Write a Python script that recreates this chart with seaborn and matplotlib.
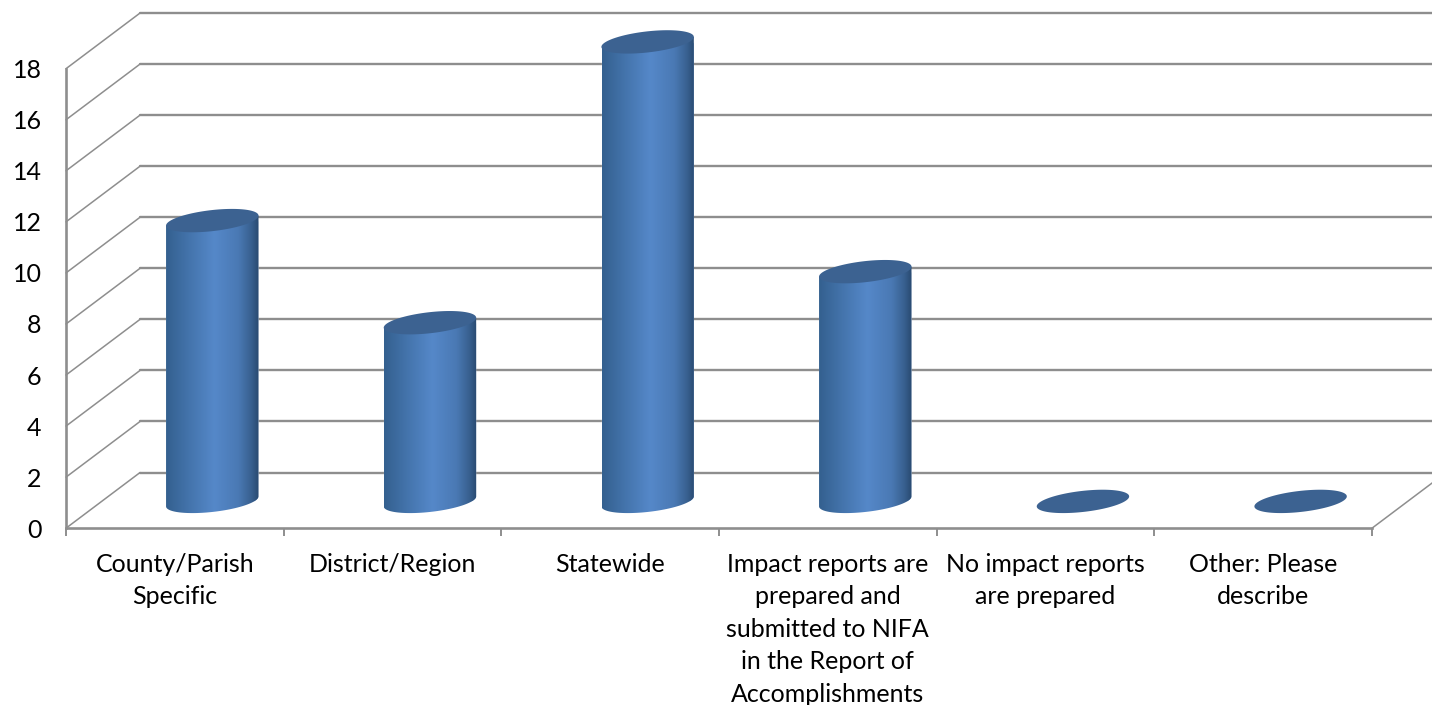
import numpy as np
import pandas as pd
import matplotlib
matplotlib.use("Agg")
import matplotlib.pyplot as plt
import seaborn as sns
from matplotlib.colors import LinearSegmentedColormap
from matplotlib.patches import Polygon
from matplotlib.path import Path
from matplotlib.transforms import Affine2D, IdentityTransform

categories = [
    "County/Parish\nSpecific",
    "District/Region",
    "Statewide",
    "Impact reports are\nprepared and\nsubmitted to NIFA\nin the Report of\nAccomplishments",
    "No impact reports\nare prepared",
    "Other: Please\ndescribe",
]
values = [11, 7, 18, 9, 0, 0]
y_ticks = [0, 2, 4, 6, 8, 10, 12, 14, 16, 18]

GRID = "#8e8e8e"
CAP = "#3c6291"
# chart depth in data units (74px across, 55px up on the reference)
DEPTH_X = 0.34
DEPTH_Y = 2.18
# ellipse shape of the cylinders, pixels
ELL_A, ELL_B, ELL_ANGLE = 46.5, 10.5, np.radians(6.5)

sns.set_theme(style="white")
plt.rcParams["font.family"] = ["Lato", "DejaVu Sans"]

fig = plt.figure(figsize=(14.32, 7.05), dpi=100)
ax = fig.add_axes([66 / 1432, 1 - 528.2 / 705, 1306 / 1432, 459.5 / 705])

df = pd.DataFrame({"category": categories, "value": values})
sns.barplot(data=df, x="category", y="value", color="#5588c9", width=0.4227,
            saturation=1, ax=ax, zorder=3)
ax.set_xlim(-0.5, 5.5)
ax.set_ylim(0, 18)
ax.set_xlabel("")
ax.set_ylabel("")

# back wall and side wall gridlines
for v in y_ticks:
    ax.plot([-0.5, -0.5 + DEPTH_X], [v, v + DEPTH_Y], color=GRID, lw=1.1, clip_on=False, zorder=1)
    ax.plot([-0.5 + DEPTH_X, 5.5 + DEPTH_X], [v + DEPTH_Y, v + DEPTH_Y], color=GRID, lw=1.7,
            clip_on=False, zorder=1)
ax.plot([5.5, 5.5 + DEPTH_X], [0, DEPTH_Y], color=GRID, lw=1.1, clip_on=False, zorder=1)

# axes
sns.despine(ax=ax, top=True, right=True)
for side in ["left", "bottom"]:
    ax.spines[side].set_color(GRID)
    ax.spines[side].set_linewidth(1.9)
ax.set_yticks(y_ticks)
ax.tick_params(axis="y", length=6, width=1.4, color=GRID, pad=11.5, labelsize=18, labelcolor="black")
ax.set_xticks(range(len(categories)))
ax.set_xticklabels(categories, linespacing=1.5)
ax.tick_params(axis="x", which="major", length=0, pad=17.5, labelsize=18, labelcolor="black")
ax.set_xticks(np.arange(-0.5, 6), minor=True)
ax.tick_params(axis="x", which="minor", length=6, width=1.4, color=GRID, bottom=True)

# cylinders: the seaborn bars sit mid depth, get a shaded body and an elliptical cap
cmap = LinearSegmentedColormap.from_list("cyl", [
    (0.0, "#34608f"), (0.25, "#4474ac"), (0.52, "#5588c9"), (0.78, "#4a79b4"),
    (0.92, "#38608f"), (1.0, "#294a70"),
])
shifted = Affine2D().translate(DEPTH_X / 2 + 0.002, DEPTH_Y / 2 - 0.04) + ax.transData
gradient = np.linspace(0, 1, 256).reshape(1, -1)


def ellipse_point(center, t):
    ex = ELL_A * np.cos(t)
    ey = ELL_B * np.sin(t)
    return np.column_stack([
        center[0] + ex * np.cos(ELL_ANGLE) - ey * np.sin(ELL_ANGLE),
        center[1] + ex * np.sin(ELL_ANGLE) + ey * np.cos(ELL_ANGLE),
    ])


for bar in ax.patches:
    x0, w, h = bar.get_x(), bar.get_width(), bar.get_height()
    mid = x0 + w / 2
    base = shifted.transform((mid, 0))
    top = shifted.transform((mid, h))
    t0 = np.arctan(-ELL_B * np.sin(ELL_ANGLE) / (ELL_A * np.cos(ELL_ANGLE)))
    arc = ellipse_point(base, np.linspace(t0, t0 - np.pi, 80))
    upper = arc[[-1, 0]] + [0, top[1] - base[1]]
    body = Path(np.vstack([arc, upper, arc[:1]]), closed=True)

    if h > 0:
        bar.set_transform(shifted)
        bar.set_clip_path(body, IdentityTransform())
        bar.set_clip_box(None)
        im = ax.imshow(gradient, cmap=cmap, aspect="auto", zorder=4,
                       extent=[x0, x0 + w, -1.5, h + 1.5], interpolation="bilinear")
        im.set_transform(shifted)
        im.set_clip_path(body, IdentityTransform())
        # images get cut at the axes box otherwise
        im.set_clip_box(fig.bbox)
    else:
        bar.set_visible(False)

    cap = ellipse_point(top, np.linspace(0, 2 * np.pi, 120))
    ax.add_patch(Polygon(cap, closed=True, facecolor=CAP, edgecolor="none",
                         transform=IdentityTransform(), clip_on=False, zorder=5))

ax.set_xlim(-0.5, 5.5)
ax.set_ylim(0, 18)

fig.savefig("out.png", dpi=100, facecolor="white")
